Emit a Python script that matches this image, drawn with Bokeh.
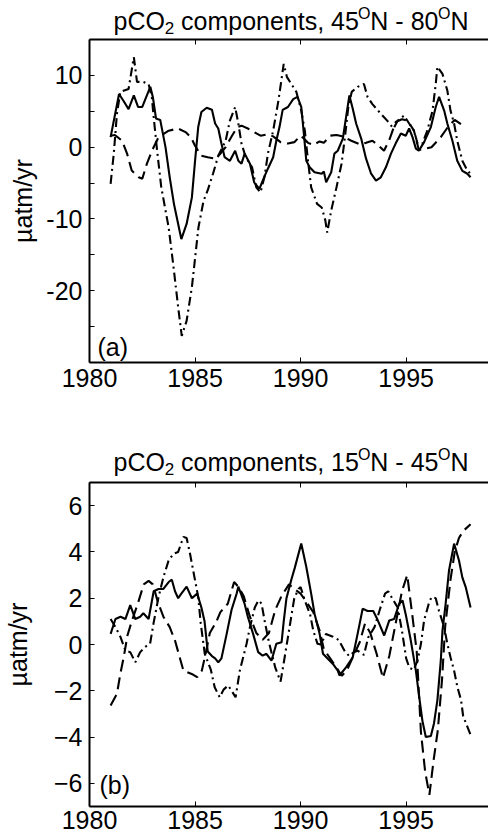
from bokeh.plotting import figure
from bokeh.models import Range1d, LinearAxis, FixedTicker, Label
from bokeh.layouts import column
from bokeh.core.properties import value
from bokeh.embed import file_html
from bokeh.resources import INLINE

# ---------------- data ----------------
x_ticks = [1980, 1985, 1990, 1995]
a_yticks = [-25, -20, -15, -10, -5, 0, 5, 10]
a_ylabels = {-25: "", -20: "-20", -15: "", -10: "-10", -5: "", 0: "0", 5: "", 10: "10"}
b_yticks = [-6, -4, -2, 0, 2, 4, 6]
title_a = ["pCO", "2", " components, 45", "O", "N - 80", "O", "N"]
title_b = ["pCO", "2", " components, 15", "O", "N - 45", "O", "N"]
ylabel = "\u00b5atm/yr"

# panel (a) solid
a_sol_x = [1981.0, 1981.4, 1981.6, 1981.85, 1982.1, 1982.3, 1982.5, 1982.88, 1983.0, 1983.15, 1983.35,
           1983.6, 1983.8, 1984.0, 1984.1, 1984.35, 1984.6, 1984.85, 1985.0, 1985.15, 1985.3, 1985.55,
           1985.8, 1985.95, 1986.1, 1986.25, 1986.4, 1986.65, 1986.9, 1987.05, 1987.2, 1987.35, 1987.6,
           1987.8, 1988.05, 1988.2, 1988.3, 1988.45, 1988.7, 1988.85, 1989.0, 1989.15, 1989.4, 1989.65,
           1989.85, 1990.03, 1990.15, 1990.27, 1990.43, 1990.66, 1991.0, 1991.1, 1991.21, 1991.45,
           1991.6, 1991.76, 1992.0, 1992.2, 1992.31, 1992.47, 1992.63, 1992.87, 1993.1, 1993.34,
           1993.57, 1993.8, 1994.04, 1994.28, 1994.5, 1994.75, 1994.98, 1995.14, 1995.3, 1995.46,
           1995.6, 1995.85, 1996.17, 1996.4, 1996.56, 1996.8, 1996.95, 1997.19, 1997.42, 1997.66,
           1997.9, 1998.05]
a_sol_y = [1.4, 7.4, 6.5, 5.3, 7.2, 5.6, 5.6, 8.4, 7.0, 4.0, 3.8,
           0.0, -4.2, -7.9, -9.3, -12.8, -10.7, -7.0, -1.9, 2.8, 4.9, 5.5,
           5.2, 3.3, 2.6, 0.5, -1.4, -1.9, -0.5, -1.9, -2.3, -0.9, -2.3,
           -4.9, -5.8, -4.7, -4.0, -3.0, -1.4, 0.9, 2.8, 5.2, 5.6, 6.7,
           7.0, 5.6, 2.0, -1.9, -2.8, -3.5, -3.7, -3.4, -4.9, -3.5,
           -0.9, -0.5, 1.2, 5.1, 7.2, 5.35, 3.3, 1.2, -1.6, -3.7,
           -4.65, -4.2, -2.8, -0.9, 0.5, 1.9, 1.6, 2.6, 1.4, -0.2,
           -0.5, 0.7, 2.8, 5.6, 7.0, 5.1, 3.3, 0.9, -1.9, -3.3,
           -3.7, -4.2]

# panel (a) dashed
a_dsh_x = [1981.0, 1981.2, 1981.54, 1981.78, 1982.0, 1982.33, 1982.5, 1982.72, 1982.96, 1983.27,
           1983.75, 1984.2, 1984.55, 1984.8, 1985.0, 1985.3, 1985.6, 1985.95, 1986.2, 1986.45,
           1986.75, 1987.0, 1987.2, 1987.5, 1987.8, 1988.1, 1988.45, 1988.7, 1989.05, 1989.4,
           1989.7, 1990.0, 1990.15, 1990.35, 1990.6, 1990.9, 1991.1, 1991.4, 1991.7, 1992.0,
           1992.4, 1992.8, 1993.1, 1993.4, 1993.7, 1993.95, 1994.2, 1994.5, 1994.8, 1995.07,
           1995.37, 1995.6, 1995.9, 1996.2, 1996.64, 1997.0, 1997.3, 1997.6]
a_dsh_y = [1.6, 1.7, 0.9, -0.9, -3.25, -4.2, -4.4, -2.3, -0.5, 1.4,
           2.3, 2.6, 2.1, 1.4, 0.2, -1.2, -1.4, -1.6, -0.9, 0.0,
           1.6, 2.8, 3.0, 2.6, 2.1, 1.6, 1.8, 1.5, 0.7, 0.5,
           0.7, 1.6, 1.2, 0.6, 0.3, 0.8, 0.6, 1.6, 1.7, 1.5,
           0.9, 0.4, 0.6, 0.9, 0.2, -0.5, 1.0, 3.5, 3.9, 3.7,
           2.3, -0.4, -0.2, 0.0, 1.4, 2.9, 3.8, 3.2]

# panel (a) dash-dot
a_dd_x = [1981.0, 1981.15, 1981.3, 1981.46, 1981.85, 1982.1, 1982.25, 1982.55, 1982.8, 1982.95,
          1983.04, 1983.2, 1983.4, 1983.75, 1983.98, 1984.2, 1984.37, 1984.6, 1984.85, 1985.16,
          1985.4, 1985.6, 1985.85, 1986.1, 1986.45, 1986.65, 1986.9, 1987.05, 1987.2, 1987.4,
          1987.7, 1987.9, 1988.1, 1988.3, 1988.45, 1988.7, 1988.95, 1989.2, 1989.35, 1989.56,
          1989.8, 1990.03, 1990.2, 1990.35, 1990.5, 1990.78, 1991.0, 1991.17, 1991.26, 1991.45,
          1991.7, 1991.94, 1992.1, 1992.26, 1992.42, 1992.7, 1993.0, 1993.17, 1993.4, 1993.8,
          1994.1, 1994.4, 1994.6, 1994.9, 1995.14, 1995.37, 1995.54, 1995.77, 1996.0, 1996.25,
          1996.4, 1996.48, 1996.72, 1996.95, 1997.1, 1997.27, 1997.42, 1997.66, 1997.9, 1998.05]
a_dd_y = [-5.1, -0.9, 4.65, 7.7, 8.1, 12.55, 9.1, 9.1, 8.8, 7.0,
          4.2, -0.4, -5.6, -11.2, -16.7, -22.3, -26.3, -24.2, -19.5, -11.2,
          -7.5, -6.0, -3.7, -1.2, 0.9, 3.7, 5.6, 3.3, 0.5, -1.4,
          -2.8, -5.6, -6.3, -4.0, -0.9, 2.3, 6.5, 11.6, 9.8, 8.8,
          7.7, 5.1, 2.3, -1.9, -5.6, -7.9, -8.4, -10.2, -11.9, -8.8,
          -5.6, -2.3, 1.4, 5.6, 7.7, 8.4, 8.8, 7.0, 6.0, 4.65,
          3.7, 2.6, 3.7, 4.4, 3.3, 2.3, 0.5, 0.5, 2.3, 5.1,
          8.8, 11.2, 10.2, 7.9, 5.1, 3.3, 0.9, -1.9, -3.25, -3.7]

# panel (b) solid
b_sol_x = [1981.0, 1981.23, 1981.47, 1981.7, 1981.93, 1982.17, 1982.4, 1982.55, 1982.8, 1983.04,
           1983.27, 1983.5, 1983.75, 1983.9, 1984.05, 1984.2, 1984.35, 1984.6, 1984.85, 1985.1,
           1985.3, 1985.45, 1985.6, 1985.8, 1985.95, 1986.1, 1986.25, 1986.5, 1986.73, 1986.97,
           1987.05, 1987.35, 1987.5, 1987.75, 1987.99, 1988.2, 1988.38, 1988.62, 1988.85, 1989.1,
           1989.2, 1989.33, 1989.56, 1989.72, 1990.03, 1990.27, 1990.5, 1990.66, 1990.9, 1991.06,
           1991.3, 1991.53, 1991.76, 1991.84, 1992.16, 1992.47, 1992.7, 1992.94, 1993.17, 1993.44,
           1993.63, 1993.96, 1994.2, 1994.43, 1994.67, 1994.83, 1994.98, 1995.22, 1995.46, 1995.62,
           1995.77, 1995.93, 1996.17, 1996.32, 1996.48, 1996.64, 1996.72, 1996.87, 1997.03, 1997.27,
           1997.5, 1997.66, 1997.82, 1998.05]
b_sol_y = [0.46, 1.1, 1.2, 1.1, 1.7, 1.1, 1.2, 1.35, 1.1, 2.3,
           2.4, 2.4, 2.7, 2.8, 2.3, 2.0, 2.2, 2.5, 2.0, 2.2,
           1.6, 1.0, -0.3, -0.5, -0.6, -0.77, -0.6, 0.47, 1.5, 2.2,
           2.5, 1.75, 1.2, 0.46, -0.33, -0.48, -0.4, -0.7, 0.03, 0.1,
           1.0, 2.0, 2.8, 3.3, 4.36, 3.35, 2.2, 1.33, 0.46, -0.4,
           -0.63, -0.84, -1.13, -1.34, -0.98, -0.55, 0.46, 1.55, 1.45, 1.45,
           1.1, 0.39, 1.04, 1.1, 1.76, 1.9, 1.3, 0.17, -1.13, -2.28,
           -3.3, -4.0, -3.95, -3.4, -2.4, -0.7, 0.6, 1.76, 3.2, 4.36,
           3.64, 2.9, 2.48, 1.6]

# panel (b) dashed
b_dsh_x = [1981.0, 1981.3, 1981.46, 1981.62, 1981.8, 1982.0, 1982.3, 1982.57, 1982.8, 1983.0,
           1983.25, 1983.5, 1983.8, 1984.05, 1984.45, 1984.9, 1985.1, 1985.32, 1985.5, 1985.7,
           1986.0, 1986.2, 1986.55, 1986.85, 1987.05, 1987.3, 1987.6, 1987.9, 1988.2, 1988.5,
           1988.8, 1989.1, 1989.45, 1989.7, 1990.0, 1990.3, 1990.6, 1990.9, 1991.1, 1991.4,
           1991.7, 1991.95, 1992.2, 1992.47, 1992.8, 1993.05, 1993.3, 1993.6, 1993.9, 1994.2,
           1994.5, 1994.8, 1995.05, 1995.3, 1995.5, 1995.7, 1995.9, 1996.1, 1996.3, 1996.5,
           1996.7, 1996.85, 1997.1, 1997.3, 1997.5, 1997.7, 1998.05]
b_dsh_y = [-2.64, -2.13, -1.27, -0.55, 0.4, 1.0, 1.8, 2.6, 2.75, 2.6,
           1.8, 1.2, 0.75, 0.17, -1.13, -1.3, -1.41, -1.13, -0.4, 0.5,
           0.97, 1.4, 1.76, 2.7, 2.5, 2.1, 1.2, 0.5, 0.2, 0.5,
           1.5, 2.1, 2.6, 2.4, 2.2, 1.8, 1.4, 0.6, -0.2, -0.6,
           -1.0, -1.35, -1.1, -0.55, 0.1, 0.9, 0.5, -0.4, -1.45, -0.5,
           0.9, 2.3, 3.0, 1.2, -0.3, -3.8, -5.5, -6.5, -5.0, -3.7,
           -1.5, 0.8, 2.8, 4.0, 4.6, 4.9, 5.2]

# panel (b) dash-dot
b_dd_x = [1981.0, 1981.23, 1981.47, 1981.7, 1981.93, 1982.17, 1982.4, 1982.64, 1982.87, 1983.03,
          1983.27, 1983.5, 1983.75, 1983.99, 1984.2, 1984.45, 1984.6, 1984.76, 1985.0, 1985.15,
          1985.27, 1985.46, 1985.75, 1985.93, 1986.17, 1986.35, 1986.57, 1986.8, 1986.92, 1987.12,
          1987.44, 1987.6, 1987.83, 1988.0, 1988.15, 1988.3, 1988.5, 1988.8, 1989.05, 1989.2,
          1989.45, 1989.7, 1989.9, 1990.0, 1990.2, 1990.45, 1990.6, 1990.8, 1990.95, 1991.2,
          1991.5, 1991.8, 1992.1, 1992.3, 1992.5, 1992.7, 1993.0, 1993.2, 1993.5, 1993.75,
          1994.0, 1994.15, 1994.4, 1994.6, 1994.8, 1995.0, 1995.15, 1995.35, 1995.54, 1995.7,
          1995.85, 1996.07, 1996.2, 1996.4, 1996.55, 1996.8, 1996.95, 1997.1, 1997.27, 1997.43,
          1997.6, 1997.7, 1998.05]
b_dd_y = [1.1, 0.75, 0.32, -0.26, -0.33, -0.77, -0.33, -0.1, 0.03, 0.9,
          2.05, 2.9, 3.64, 3.93, 4.0, 4.65, 4.6, 3.93, 2.77, 2.05,
          0.9, -0.4, -1.1, -1.85, -2.28, -1.95, -1.77, -2.1, -2.28, -1.13,
          0.03, 0.75, 1.6, 1.9, 1.77, 1.0, 0.1, -1.0, -1.6, -0.8,
          0.6, 2.0, 2.4, 2.48, 1.9, 1.3, 0.6, 0.03, 0.0, 0.45,
          0.35, 0.2, -0.3, -0.5, -0.35, -0.26, -0.45, 0.3, 0.75, 1.5,
          2.2, 2.3, 1.9, 1.6, 0.6, -0.6, -1.0, -1.1, -0.7, 0.03,
          1.04, 1.76, 2.05, 2.0, 1.47, 0.75, 0.03, -0.55, -1.13, -1.85,
          -2.4, -3.1, -3.9]

# ---------------- layout / style ----------------
FONT = "Liberation Sans"
FS = 25
W = 488
LEFT = 87
X0, X1 = 1980, 1998.9
FRAME_W = W - LEFT
LW = 2.1
MID = 0.3465   # (ascent - descent) / 2 of the font, in em: baseline -> box middle

ADV = {'p': 556, 'C': 722, 'O': 778, '2': 556, ' ': 278, 'c': 500, 'o': 556, 'm': 833, 'n': 556,
       'e': 556, 't': 278, 's': 500, ',': 278, '4': 556, '5': 556, '1': 556, '8': 556, '0': 556,
       'N': 722, '-': 333}


def text_w(s, size):
    return sum(ADV.get(ch, 556) for ch in s) * size / 1000.0


def make_title(height, pieces, baseline):
    """A strip without axes whose frame lines up with the panel frame below it;
    its coordinates are pixels from the strip's top-left corner."""
    t = figure(width=W, height=height, title=None,
               x_range=Range1d(LEFT, W), y_range=Range1d(height, 0),
               output_backend="svg", toolbar_location=None,
               x_axis_type=None, y_axis_type=None,
               min_border_left=LEFT, min_border_right=0, min_border_top=0, min_border_bottom=0)
    t.outline_line_color = None
    t.xgrid.grid_line_color = None
    t.ygrid.grid_line_color = None
    t.background_fill_color = "white"
    t.border_fill_color = "white"
    sizes = [FS, 17, FS, 16, FS, 16, FS]
    shifts = [0, -4, 0, 10, 0, 10, 0]
    total = sum(text_w(s, z) for s, z in zip(pieces, sizes))
    px = LEFT + FRAME_W / 2 + 2 - total / 2
    for s, z, dy_ in zip(pieces, sizes, shifts):
        body = s.lstrip(" ")
        lead = text_w(s[:len(s) - len(body)], z)
        t.text(x=[px + lead], y=[baseline - dy_ - MID * z], text=[body], text_font=value(FONT),
               text_font_size=value(f"{z}px"), text_color="black",
               text_align="left", text_baseline="middle")
        px += text_w(s, z)
    return t


def make_panel(height, top, bottom, yr, yticks, ylabels, lstandoff, series,
               letter, letter_px, letter_base, xstandoff):
    p = figure(width=W, height=height, title=None, x_range=Range1d(X0, X1), y_range=Range1d(*yr),
               output_backend="svg", toolbar_location=None,
               min_border_left=LEFT, min_border_right=0, min_border_top=top,
               min_border_bottom=bottom)
    p.outline_line_color = None
    p.xgrid.grid_line_color = None
    p.ygrid.grid_line_color = None
    p.background_fill_color = "white"
    p.border_fill_color = "white"

    for ax in (p.xaxis[0], p.yaxis[0]):
        ax.axis_line_width = 2
        ax.axis_line_color = "black"
        ax.major_tick_in = 5
        ax.major_tick_out = 0
        ax.major_tick_line_color = "black"
        ax.major_tick_line_width = 1
        ax.minor_tick_line_color = None
        ax.major_label_text_font = FONT
        ax.major_label_text_font_size = f"{FS}px"
        ax.major_label_text_color = "black"

    p.xaxis[0].ticker = FixedTicker(ticks=x_ticks)
    p.xaxis[0].major_label_standoff = xstandoff
    p.yaxis[0].ticker = FixedTicker(ticks=yticks)
    p.yaxis[0].major_label_standoff = 7
    if ylabels:
        p.yaxis[0].major_label_overrides = ylabels
    p.yaxis[0].axis_label = ylabel
    p.yaxis[0].axis_label_text_font = FONT
    p.yaxis[0].axis_label_text_font_size = f"{FS}px"
    p.yaxis[0].axis_label_text_font_style = "normal"
    p.yaxis[0].axis_label_text_color = "black"
    p.yaxis[0].axis_label_standoff = lstandoff

    top_ax = LinearAxis(ticker=FixedTicker(ticks=x_ticks), axis_line_width=2,
                        major_tick_in=5, major_tick_out=0, minor_tick_line_color=None,
                        major_label_overrides={t: "" for t in x_ticks},
                        major_label_text_font_size="1px", major_label_standoff=0)
    p.add_layout(top_ax, "above")

    (sx, sy), (dx, dy), (ddx, ddy) = series
    p.line(sx, sy, line_color="black", line_width=LW)
    p.line(dx, dy, line_color="black", line_width=LW, line_dash="12 6")
    p.line(ddx, ddy, line_color="black", line_width=LW, line_dash="9 4 2 4")

    frame_h = height - top - bottom
    ypp = (yr[1] - yr[0]) / frame_h
    xpp = (X1 - X0) / FRAME_W
    mid_py = letter_base - MID * FS
    p.add_layout(Label(x=X0 + (letter_px - LEFT) * xpp, y=yr[1] + (top - mid_py) * ypp,
                       text=letter, text_font=FONT, text_font_size=f"{FS}px", text_color="black",
                       text_align="left", text_baseline="middle"))
    return p


TA, TB = 37, 61
ta = make_title(TA, title_a, 29)
pa = make_panel(419 - TA, 39 - TA, 57, (-30, 15), a_yticks, a_ylabels, 6,
                [(a_sol_x, a_sol_y), (a_dsh_x, a_dsh_y), (a_dd_x, a_dd_y)],
                "(a)", 95, 355 - TA, 6)
tb = make_title(TB, title_b, 51)
pb = make_panel(419 - TB, 63 - TB, 32, (-7, 7), b_yticks, None, 19,
                [(b_sol_x, b_sol_y), (b_dsh_x, b_dsh_y), (b_dd_x, b_dd_y)],
                "(b)", 97, 374 - TB, 4)

layout = column(ta, pa, tb, pb, spacing=0)
open("out.html", "w").write(file_html(layout, INLINE))
